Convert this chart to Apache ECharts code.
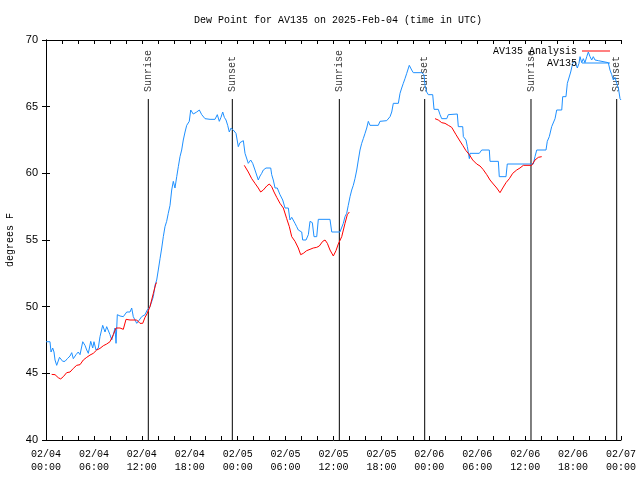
<!DOCTYPE html>
<html>
<head>
<meta charset="utf-8">
<script src="https://cdn.jsdelivr.net/npm/echarts@6/dist/echarts.min.js"></script>
<style>
html,body{margin:0;padding:0;background:#fff;}
#chart{width:640px;height:480px;}
</style>
</head>
<body>
<div id="chart"></div>
<script>
// Hours since 02/04 00:00 UTC
const av135Hours = [0,0.50,0.63,0.84,1.00,1.13,1.34,1.54,1.69,1.94,2.09,2.38,2.67,3.01,3.22,3.42,3.76,4.04,4.26,4.60,4.88,5.10,5.30,5.60,5.85,6.01,6.26,6.55,6.76,7.10,7.39,7.60,8.01,8.23,8.43,8.64,8.77,8.93,9.27,9.68,10.11,10.52,10.73,10.93,11.36,11.68,11.98,12.40,12.68,13.02,13.44,13.65,13.86,14.06,14.28,14.49,14.69,14.90,15.11,15.31,15.53,15.74,15.94,16.15,16.37,16.57,16.78,16.99,17.19,17.41,17.62,17.94,18.12,18.44,18.87,19.20,19.50,19.91,20.54,21.16,21.45,21.70,21.91,22.13,22.33,22.54,22.75,22.95,23.17,23.45,23.79,24.08,24.29,24.71,24.92,25.33,25.63,25.88,26.17,26.58,26.80,27.01,27.21,27.55,28.14,28.26,28.46,28.68,28.96,29.21,29.30,29.64,29.93,30.34,30.55,30.77,30.97,31.18,31.39,31.59,31.81,32.02,32.14,32.56,32.85,33.06,33.35,33.56,33.90,34.10,35.56,35.78,36.81,37.03,37.23,37.44,37.65,37.85,38.07,38.28,38.48,38.69,38.91,39.11,39.32,39.53,39.73,39.95,40.16,40.36,40.57,41.61,41.82,42.66,43.08,43.29,43.49,44.12,44.33,44.54,44.74,44.95,45.17,45.49,45.79,45.99,47.05,47.33,47.46,47.67,47.87,48.42,48.59,49.12,49.34,49.55,50.18,50.38,50.59,51.50,51.63,52.18,52.26,52.59,52.76,53.01,53.09,54.26,54.56,55.51,55.60,56.64,56.76,57.60,57.76,61.02,61.23,61.45,62.61,62.77,63.02,63.32,63.52,63.74,63.95,64.58,64.70,65.11,65.28,65.53,65.70,65.95,66.24,66.53,66.74,66.87,67.08,67.28,67.49,67.71,67.91,68.12,68.33,68.53,68.75,69.16,70.41,70.62,70.84,71.04,71.25,71.46,71.67,71.88,72.0];
const av135Values = [47.37,47.37,46.6,46.9,46.6,46.0,45.6,45.6,46.2,46.2,45.9,45.9,46.1,46.3,46.55,46.1,46.4,46.6,46.4,47.37,47.1,46.75,46.5,47.4,46.9,47.37,46.75,46.9,47.75,48.6,48.1,48.5,47.9,47.5,47.9,48.4,47.25,49.4,49.3,49.25,49.6,49.6,49.9,49.25,48.75,49.0,49.25,49.4,49.75,50.0,50.75,51.6,52.0,52.75,53.6,54.4,55.25,56.0,56.4,57.0,57.6,58.75,59.4,58.9,59.75,60.5,61.25,61.75,62.5,63.1,63.6,63.9,64.75,64.45,64.6,64.75,64.4,64.1,64.05,64.05,64.4,63.9,64.2,64.6,64.2,64.0,63.6,63.1,63.4,63.25,63.0,62.0,62.3,62.45,61.5,60.75,61.0,60.75,60.25,59.5,59.8,60.0,60.25,60.4,60.4,59.9,59.5,58.9,58.9,59.0,58.4,58.0,57.4,57.4,56.5,56.7,56.6,56.25,56.0,55.75,55.8,55.6,55.0,55.0,55.4,56.4,56.3,55.25,55.25,56.55,56.55,55.6,55.6,55.75,56.25,56.75,57.0,57.6,58.25,58.75,59.1,59.6,60.25,61.0,61.75,62.25,62.6,63.0,63.4,63.9,63.6,63.6,63.9,63.95,64.25,64.6,65.25,65.25,66.0,66.4,66.75,67.1,67.5,68.1,67.75,67.55,67.55,67.4,66.6,66.1,65.9,65.9,64.8,64.8,64.4,64.1,64.1,64.4,64.45,64.45,63.5,63.5,62.75,62.5,62.0,61.1,61.5,61.5,61.75,61.75,60.9,60.9,59.75,59.75,60.7,60.7,61.25,61.75,61.75,62.4,62.75,63.5,63.6,64.1,64.75,64.75,65.75,65.75,66.75,66.9,67.6,68.25,68.4,67.9,68.25,68.75,68.3,68.6,68.3,68.75,69.1,68.75,68.5,68.75,68.5,68.45,68.3,67.75,67.4,67.0,67.2,66.75,66.4,65.6,65.5];

const analysis1Hours = [0.71,1.13,1.54,1.84,2.17,2.59,3.01,3.42,3.84,4.26,4.67,5.10,5.51,5.92,6.35,6.76,7.18,7.60,8.01,8.43,8.77,9.27,9.68,10.02,10.52,11.36,11.77,12.11,12.40,12.68,13.02,13.44,13.77,13.90];
const analysis1Values = [44.92,44.9,44.67,44.58,44.75,45.05,45.1,45.37,45.6,45.65,46.0,46.2,46.37,46.5,46.75,46.87,47.07,47.2,47.37,47.9,48.4,48.4,48.3,49.05,49.0,49.0,48.75,48.75,49.2,49.5,50.0,51.0,51.75,51.8];
const analysis2Hours = [24.83,25.33,25.76,26.17,26.58,26.88,27.21,27.64,27.96,28.26,28.55,28.89,29.30,29.72,30.14,30.47,30.77,31.18,31.59,31.89,32.22,32.64,33.06,33.47,33.90,34.22,34.65,34.94,35.23,35.56,35.98,36.31,36.60,37.03,37.44,37.73,37.98];
const analysis2Values = [60.6,60.1,59.6,59.25,58.9,58.6,58.75,59.05,59.2,59.0,58.6,58.2,57.75,57.4,56.6,56.0,55.25,54.9,54.4,53.9,54.0,54.2,54.3,54.4,54.45,54.55,54.9,55.0,54.75,54.25,53.8,54.2,54.7,55.25,56.25,56.9,57.1];
const analysis3Hours = [48.71,49.12,49.55,49.96,50.38,50.80,51.00,51.34,51.75,52.18,52.59,53.01,53.43,53.93,54.35,54.72,55.19,55.60,56.01,56.44,56.85,57.19,57.60,58.02,58.44,58.94,59.35,59.77,60.82,61.23,61.65,62.07];
const analysis3Values = [64.1,64.0,63.8,63.75,63.6,63.45,63.3,62.9,62.5,62.1,61.7,61.4,61.0,60.7,60.55,60.3,59.9,59.5,59.2,58.9,58.55,58.9,59.3,59.6,60.0,60.25,60.4,60.6,60.6,61.0,61.2,61.25];

const sunHours = [12.81,23.33,36.73,47.42,60.73,71.46];
const sunLabels = ['Sunrise','Sunset','Sunrise','Sunset','Sunrise','Sunset'];
const sunLineTop = 65.575;

const xDates = ['02/04','02/05','02/06','02/07'];
const yTicks = [40,45,50,55,60,65,70];

const MONO = '"Liberation Mono", "DejaVu Sans Mono", monospace';
const SANS = '"Liberation Sans", Arial, sans-serif';

function zip(a, b) { return a.map((t, i) => [t, b[i]]); }
const analysisData = []
  .concat(zip(analysis1Hours, analysis1Values), [[13.95, null]])
  .concat(zip(analysis2Hours, analysis2Values), [[38.0, null]])
  .concat(zip(analysis3Hours, analysis3Values));
const av135Data = zip(av135Hours, av135Values);
const sunLineData = [];
sunHours.forEach(t => { sunLineData.push([t, yTicks[0]], [t, sunLineTop], [t, null]); });
const sunLabelData = sunHours.map((t, i) => ({ value: [t, sunLineTop], name: sunLabels[i] }));

function xLabel(v) {
  if (v % 6 !== 0) return '';
  const d = Math.floor(v / 24);
  const h = v % 24;
  return xDates[d] + '\n' + (h < 10 ? '0' : '') + h + ':00';
}

const chart = echarts.init(document.getElementById('chart'), null, { renderer: 'canvas' });
const axisLineStyle = { color: '#000', width: 1 };
const legendText = { fontFamily: MONO, fontSize: 10, color: '#000' };
chart.setOption({
  animation: false,
  backgroundColor: '#fff',
  title: {
    text: 'Dew Point for AV135 on 2025-Feb-04 (time in UTC)',
    left: 189, top: 10,
    textStyle: { fontFamily: MONO, fontSize: 10, fontWeight: 'normal', color: '#000' }
  },
  legend: [
    { data: ['AV135 Analysis'], right: 25, top: 41, orient: 'vertical', align: 'right',
      icon: 'rect', itemWidth: 28, itemHeight: 1, textStyle: legendText },
    { data: ['AV135'], right: 25, top: 53, orient: 'vertical', align: 'right',
      icon: 'rect', itemWidth: 28, itemHeight: 1, textStyle: legendText }
  ],
  grid: { left: 46, right: 19, top: 40, bottom: 40, containLabel: false, outerBoundsMode: 'none' },
  xAxis: [
    { type: 'value', min: 0, max: 72, interval: 2, position: 'bottom',
      axisLine: { lineStyle: axisLineStyle },
      axisTick: { inside: true, length: 4, lineStyle: axisLineStyle },
      axisLabel: { formatter: xLabel, fontFamily: MONO, fontSize: 10, color: '#000', margin: 8, lineHeight: 13 },
      splitLine: { show: false } },
    { type: 'value', min: 0, max: 72, interval: 2, position: 'top',
      axisLine: { lineStyle: axisLineStyle },
      axisTick: { inside: true, length: 4, lineStyle: axisLineStyle },
      axisLabel: { show: false }, splitLine: { show: false } }
  ],
  yAxis: [
    { type: 'value', min: 40, max: 70, interval: 5, position: 'left',
      name: 'degrees F', nameLocation: 'middle', nameGap: 31, nameRotate: 90,
      nameTextStyle: { fontFamily: MONO, fontSize: 10, color: '#000' },
      axisLine: { show: true, lineStyle: axisLineStyle },
      axisTick: { show: true, inside: true, length: 4, lineStyle: axisLineStyle },
      axisLabel: { fontFamily: SANS, fontSize: 11, color: '#000', margin: 8 },
      splitLine: { show: false } },
    { type: 'value', min: 40, max: 70, interval: 5, position: 'right',
      axisLine: { show: true, lineStyle: axisLineStyle },
      axisTick: { show: true, inside: true, length: 4, lineStyle: axisLineStyle },
      axisLabel: { show: false }, splitLine: { show: false } }
  ],
  series: [
    { name: 'sun', type: 'line', data: sunLineData, symbol: 'none', silent: true, z: 1,
      connectNulls: false, lineStyle: { color: '#000', width: 1 } },
    { name: 'sunLabels', type: 'scatter', data: sunLabelData, symbolSize: 0, silent: true, z: 1,
      label: { show: true, formatter: p => p.name, position: 'top', distance: 7, rotate: 90,
               align: 'left', verticalAlign: 'middle', fontFamily: MONO, fontSize: 10, color: '#000' } },
    { name: 'AV135 Analysis', type: 'line', data: analysisData, symbol: 'none', showSymbol: false,
      connectNulls: false, z: 3, color: '#ff0000', lineStyle: { color: '#ff0000', width: 1 } },
    { name: 'AV135', type: 'line', data: av135Data, symbol: 'none', showSymbol: false, z: 2,
      color: '#1e90ff', lineStyle: { color: '#1e90ff', width: 1 } }
  ]
});
</script>
</body>
</html>
